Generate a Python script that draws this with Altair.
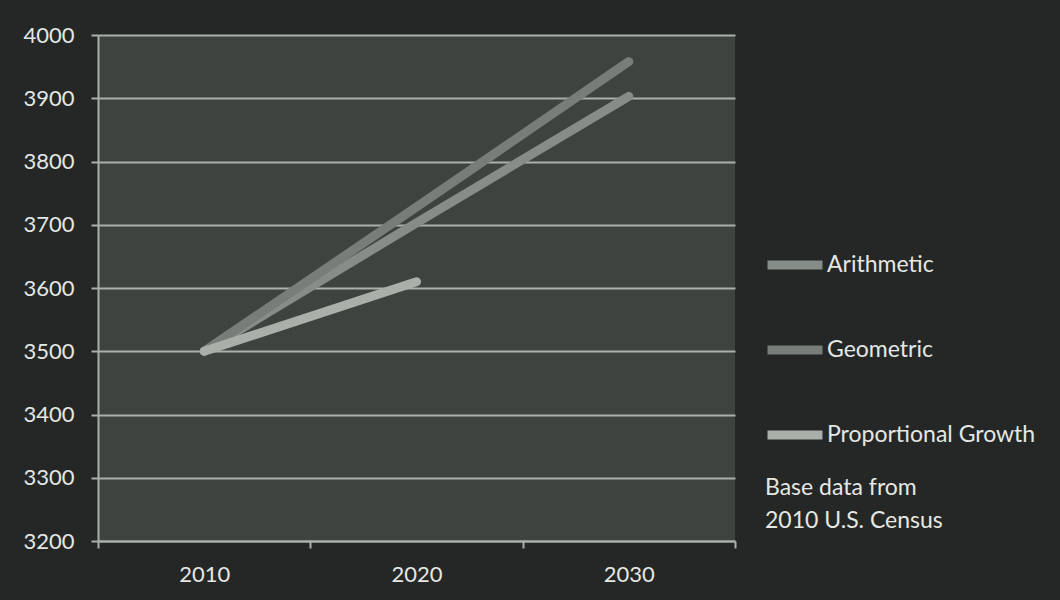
import altair as alt
import pandas as pd

years = ["2010", "2020", "2030"]
arithmetic = [3500, 3703, 3903]
geometric = [3500, 3728, 3958]
proportional = [3500, 3610]
series_names = ["Arithmetic", "Geometric", "Proportional Growth"]
series_colors = ["#868c87", "#777d78", "#a9afa9"]
note_lines = ["Base data from", "2010 U.S. Census"]

rows = []
for y, v in zip(years, arithmetic):
    rows.append({"year": y, "value": v, "series": series_names[0]})
for y, v in zip(years, geometric):
    rows.append({"year": y, "value": v, "series": series_names[1]})
for y, v in zip(years, proportional):
    rows.append({"year": y, "value": v, "series": series_names[2]})
df = pd.DataFrame(rows)

FONT = "Lato"
TEXT = "#e4e7e4"
GRID = "#aab0aa"

lines = alt.Chart(df).mark_line(strokeWidth=9, strokeCap="round", strokeJoin="round").encode(
    x=alt.X("year:O", bandPosition=0.5, sort=years,
            scale=alt.Scale(type="band", domain=years, paddingInner=0, paddingOuter=0),
            axis=alt.Axis(title=None, labelAngle=0, tickBand="extent", tickSize=7,
                          tickColor=GRID, tickWidth=2, domainColor=GRID, domainWidth=2,
                          labelFontSize=22, labelColor=TEXT, labelFont=FONT, labelPadding=16,
                          grid=False)),
    y=alt.Y("value:Q", scale=alt.Scale(domain=[3200, 4000], nice=False, zero=False),
            axis=alt.Axis(title=None, values=list(range(3200, 4001, 100)), format="d",
                          tickSize=7, tickColor=GRID, tickWidth=2, domainColor=GRID,
                          domainWidth=2, gridColor=GRID, gridWidth=2, labelFontSize=22,
                          labelColor=TEXT, labelFont=FONT, labelPadding=17)),
    color=alt.Color("series:N", scale=alt.Scale(domain=series_names, range=series_colors),
                    legend=alt.Legend(title=None, orient="none", legendX=665, legendY=198,
                                      symbolType="stroke", symbolSize=3025, symbolStrokeWidth=9,
                                      labelFontSize=23, labelColor=TEXT, labelFont=FONT,
                                      labelOffset=0, rowPadding=35, symbolOpacity=1,
                                      labelLimit=0)),
    detail="series:N",
)

note = alt.Chart(pd.DataFrame({"t": [note_lines]})).mark_text(
    align="left", baseline="top", fontSize=23, font=FONT, color=TEXT, lineHeight=33
).encode(x=alt.value(667), y=alt.value(442), text="t")

chart = alt.layer(lines, note).properties(
    width=637, height=506,
    autosize=alt.AutoSizeParams(type="none"),
    padding={"left": 98, "top": 35, "right": 325, "bottom": 59},
    background="#242725",
).configure_view(fill="#3e433f", stroke=None)

chart.save("out.html", embed_options={"renderer": "svg", "actions": False})
